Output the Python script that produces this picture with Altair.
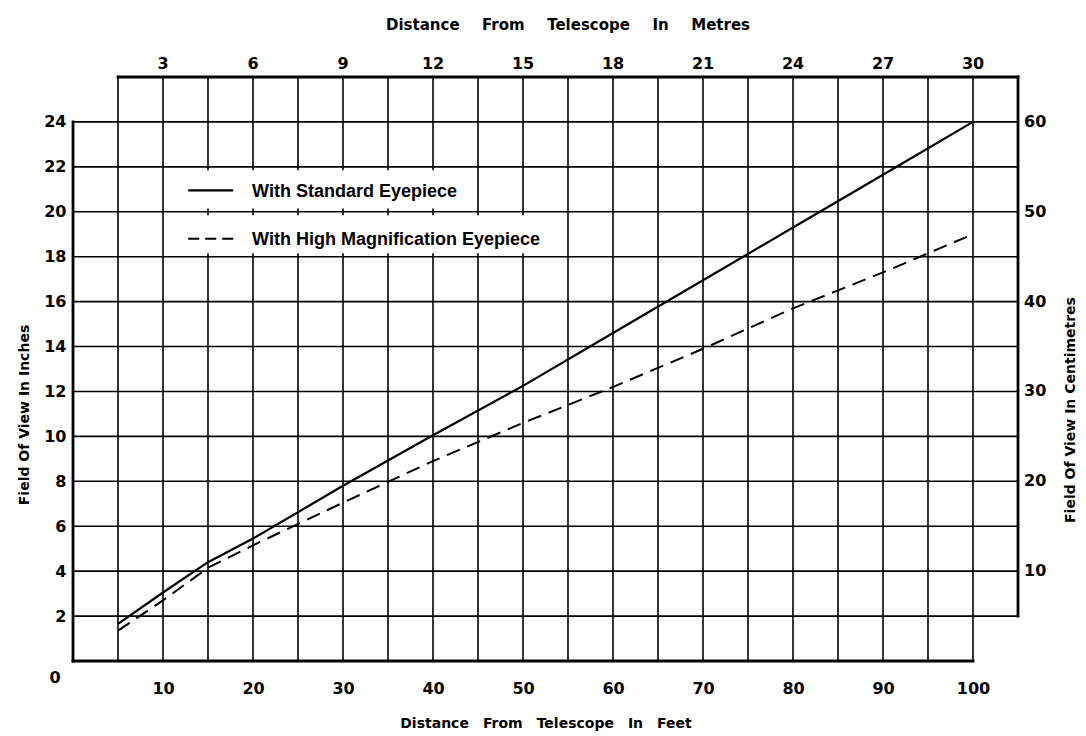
import altair as alt
import pandas as pd

# ---- data ----
feet_ticks = [10, 20, 30, 40, 50, 60, 70, 80, 90, 100]
metre_ticks = [3, 6, 9, 12, 15, 18, 21, 24, 27, 30]
inch_ticks = [2, 4, 6, 8, 10, 12, 14, 16, 18, 20, 22, 24]
cm_ticks = [10, 20, 30, 40, 50, 60]

std_ft = [5, 10, 15, 20, 30, 40, 50, 60, 70, 80, 90, 100]
std_in = [1.65, 3.05, 4.4, 5.45, 7.8, 10.05, 12.25, 14.6, 16.95, 19.3, 21.65, 24.0]
hm_ft = [5, 10, 15, 20, 30, 40, 50, 60, 70, 80, 90, 100]
hm_in = [1.35, 2.7, 4.15, 5.15, 7.05, 8.9, 10.6, 12.2, 13.9, 15.7, 17.3, 19.0]

grid_ft = list(range(5, 101, 5))
grid_in = list(range(2, 25, 2))

FT_MAX, IN_MAX = 105, 26

legend_labels = ["With Standard Eyepiece", "With High Magnification Eyepiece"]
titles = {
    "bottom": "Distance\u2003From\u2003Telescope\u2003In\u2003Feet",
    "top": "Distance\u2003\u2002From\u2003\u2002Telescope\u2003\u2002In\u2003\u2002Metres",
    "left": "Field Of View In Inches",
    "right": "Field Of View In Centimetres",
}

# ---- tables ----
grid_rows = [{"x": f, "x2": f, "y": 0, "y2": IN_MAX} for f in grid_ft] + \
            [{"x": 0, "x2": FT_MAX, "y": i, "y2": i} for i in grid_in]
grid_df = pd.DataFrame(grid_rows)
frame_df = pd.DataFrame([
    {"x": 0, "x2": 0, "y": 0, "y2": 24},
    {"x": 0, "x2": 100, "y": 0, "y2": 0},
    {"x": 5, "x2": FT_MAX, "y": IN_MAX, "y2": IN_MAX},
    {"x": FT_MAX, "x2": FT_MAX, "y": 2, "y2": IN_MAX},
])
std_df = pd.DataFrame({"ft": std_ft, "inch": std_in})
hm_df = pd.DataFrame({"ft": hm_ft, "inch": hm_in})
m_df = pd.DataFrame({"m": metre_ticks})
cm_df = pd.DataFrame({"cm": cm_ticks})
one = pd.DataFrame({"k": [0]})

NUMFONT = "DejaVu Sans"
TFONT = "DejaVu Sans"
LFONT = "Liberation Sans"
W, H = 945, 584

xs = alt.Scale(domain=[0, FT_MAX], nice=False, zero=False)
ys = alt.Scale(domain=[0, IN_MAX], nice=False, zero=False)

label_common = dict(domain=False, ticks=False, grid=False, labelFont=NUMFONT,
                    labelFontSize=16, labelFontWeight="bold", labelColor="black",
                    title=None)

grid = alt.Chart(grid_df).mark_rule(color="black", strokeWidth=1.6).encode(
    x=alt.X("x:Q", scale=xs, axis=alt.Axis(orient="bottom", values=feet_ticks,
                                            labelPadding=19, **label_common)),
    x2="x2:Q",
    y=alt.Y("y:Q", scale=ys, axis=alt.Axis(orient="left", values=inch_ticks,
                                            labelPadding=7, **label_common)),
    y2="y2:Q")

frame = alt.Chart(frame_df).mark_rule(color="black", strokeWidth=2.8, strokeCap="square").encode(
    x="x:Q", x2="x2:Q", y="y:Q", y2="y2:Q")

box1 = alt.Chart(one).mark_rect(color="white").encode(
    x=alt.datum(10.3), x2=alt.datum(44.7), y=alt.datum(20.15), y2=alt.datum(21.85))
box2 = alt.Chart(one).mark_rect(color="white").encode(
    x=alt.datum(10.3), x2=alt.datum(54.7), y=alt.datum(18.15), y2=alt.datum(19.85))

std_line = alt.Chart(std_df).mark_line(color="black", strokeWidth=2.2).encode(
    x="ft:Q", y="inch:Q")
hm_line = alt.Chart(hm_df).mark_line(color="black", strokeWidth=2.0, strokeDash=[14, 8]).encode(
    x="ft:Q", y="inch:Q")

leg_solid = alt.Chart(one).mark_rule(color="black", strokeWidth=2.2).encode(
    x=alt.datum(12.8), x2=alt.datum(17.8), y=alt.datum(20.95))
leg_dash = alt.Chart(one).mark_rule(color="black", strokeWidth=2.0, strokeDash=[11, 6]).encode(
    x=alt.datum(12.8), x2=alt.datum(17.8), y=alt.datum(18.8))
leg_t1 = alt.Chart(one).mark_text(align="left", baseline="middle", font=LFONT,
                                  fontSize=18, fontWeight="bold", color="black",
                                  text=legend_labels[0]).encode(
    x=alt.datum(19.9), y=alt.datum(20.9))
leg_t2 = alt.Chart(one).mark_text(align="left", baseline="middle", font=LFONT,
                                  fontSize=18, fontWeight="bold", color="black",
                                  text=legend_labels[1]).encode(
    x=alt.datum(19.9), y=alt.datum(18.75))

num_style = dict(font=NUMFONT, fontSize=16, fontWeight="bold", color="black")

zero_lbl = alt.Chart(one).mark_text(text="0", dx=-18, dy=17, **num_style).encode(
    x=alt.datum(0), y=alt.datum(0))

top_lbls = alt.Chart(m_df).transform_calculate(ft="datum.m * 10 / 3").mark_text(
    baseline="bottom", **num_style).encode(
    x="ft:Q", y=alt.value(-5), text="m:Q")

right_lbls = alt.Chart(cm_df).transform_calculate(inch="datum.cm / 2.5").mark_text(
    align="left", baseline="middle", **num_style).encode(
    x=alt.value(W + 6), y="inch:Q", text="cm:Q")

t_style = dict(font=TFONT, fontSize=15, fontWeight="bold", color="black",
               baseline="middle", align="center")
b_style = dict(font=TFONT, fontSize=14, fontWeight="bold", color="black",
               baseline="middle", align="center")
v_style = dict(font=TFONT, fontSize=14, fontWeight="bold", color="black",
               baseline="middle", align="center")
t_bottom = alt.Chart(one).mark_text(text=titles["bottom"], **b_style).encode(
    x=alt.value(473), y=alt.value(H + 63))
t_top = alt.Chart(one).mark_text(text=titles["top"], **t_style).encode(
    x=alt.value(495), y=alt.value(-52))
t_left = alt.Chart(one).mark_text(text=titles["left"], angle=270, **v_style).encode(
    x=alt.value(-48), y=alt.value(338))
t_right = alt.Chart(one).mark_text(text=titles["right"], angle=270, **v_style).encode(
    x=alt.value(W + 53), y=alt.value(333))

chart = alt.layer(grid, frame, box1, box2, hm_line, std_line,
                  leg_solid, leg_dash, leg_t1, leg_t2, zero_lbl,
                  top_lbls, right_lbls, t_bottom, t_top, t_left, t_right).properties(
    width=W, height=H,
    autosize=alt.AutoSizeParams(type="none"),
    padding={"left": 65, "top": 69, "right": 60, "bottom": 75},
    background="white",
).configure_view(stroke=None)

chart.save("out.html", embed_options={"renderer": "svg", "actions": False})
